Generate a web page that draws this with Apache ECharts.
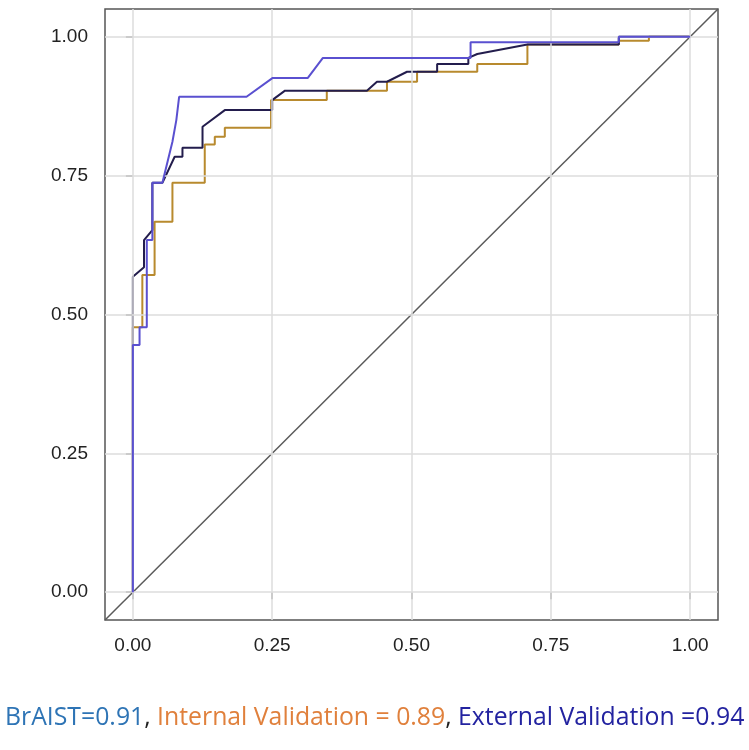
<!DOCTYPE html>
<html>
<head>
<meta charset="utf-8">
<script src="https://cdn.jsdelivr.net/npm/echarts@6/dist/echarts.min.js"></script>
<style>html,body{margin:0;padding:0;background:#fff;}#c{width:749px;height:750px;}</style>
</head>
<body>
<div id="c"></div>
<script>
// Tick labels
const tickValues = [0, 0.25, 0.5, 0.75, 1];
// BrAIST (navy)
const brFpr = [0, 0, 0.02, 0.02, 0.035, 0.035, 0.053, 0.075, 0.089, 0.089, 0.125, 0.125, 0.165, 0.25, 0.25, 0.273, 0.42, 0.438, 0.456, 0.492, 0.546, 0.546, 0.602, 0.602, 0.618, 0.708, 0.872, 0.872, 1];
const brTpr = [0, 0.568, 0.585, 0.634, 0.652, 0.737, 0.737, 0.784, 0.784, 0.80, 0.80, 0.838, 0.868, 0.868, 0.886, 0.903, 0.903, 0.919, 0.919, 0.937, 0.937, 0.951, 0.951, 0.962, 0.969, 0.986, 0.986, 1, 1];
// Internal validation (gold)
const inFpr = [0, 0, 0.017, 0.017, 0.039, 0.039, 0.071, 0.071, 0.129, 0.129, 0.147, 0.147, 0.165, 0.165, 0.248, 0.248, 0.348, 0.348, 0.456, 0.456, 0.51, 0.51, 0.618, 0.618, 0.708, 0.708, 0.872, 0.872, 0.926, 0.926, 1];
const inTpr = [0, 0.477, 0.477, 0.571, 0.571, 0.667, 0.667, 0.737, 0.737, 0.806, 0.806, 0.82, 0.82, 0.836, 0.836, 0.886, 0.886, 0.903, 0.903, 0.919, 0.919, 0.937, 0.937, 0.951, 0.951, 0.986, 0.986, 0.993, 0.993, 1, 1];
// External validation (blue)
const exFpr = [0, 0, 0.012, 0.012, 0.025, 0.025, 0.035, 0.035, 0.053, 0.071, 0.078, 0.083, 0.204, 0.251, 0.314, 0.341, 0.606, 0.606, 0.872, 0.872, 1];
const exTpr = [0, 0.445, 0.445, 0.477, 0.477, 0.634, 0.634, 0.737, 0.737, 0.811, 0.85, 0.892, 0.892, 0.926, 0.926, 0.962, 0.962, 0.99, 0.99, 1, 1];
// Reference diagonal
const diagX = [-0.05, 1.05];
const diagY = [-0.05, 1.05];

const zip = (a, b) => a.map((v, i) => [v, b[i]]);
const chart = echarts.init(document.getElementById('c'), null, {renderer: 'canvas'});

const axisCommon = {
  type: 'value', min: -0.05, max: 1.05,
  axisLine: {show: false},
  splitLine: {show: false},
  axisTick: {show: true, customValues: tickValues, length: 7, lineStyle: {color: '#999', width: 2}},
  axisLabel: {customValues: tickValues, color: '#222', fontSize: 19, fontFamily: 'Liberation Sans, Arial, sans-serif',
    formatter: v => v.toFixed(2)}
};
const capFont = '"Open Sans", Lato, sans-serif';
const capSize = 24.8;

chart.setOption({
  animation: false,
  grid: {left: 105, right: 31, top: 9, bottom: 130, show: true, borderColor: '#555', borderWidth: 1.5, backgroundColor: '#fff'},
  xAxis: Object.assign({}, axisCommon, {axisLabel: Object.assign({}, axisCommon.axisLabel, {margin: 16})}),
  yAxis: Object.assign({}, axisCommon, {axisLabel: Object.assign({}, axisCommon.axisLabel, {margin: 17})}),
  title: {
    left: 0, top: 700,
    text: '{a|BrAIST=0.91}{k|, }{b|Internal Validation = 0.89}{k|, }{c|External Validation =0.94}',
    textStyle: {
      fontWeight: 'normal',
      rich: {
        a: {color: '#2e74b5', fontSize: capSize, fontWeight: 'normal', fontFamily: capFont},
        k: {color: '#222', fontSize: capSize, fontWeight: 'normal', fontFamily: capFont},
        b: {color: '#e0803c', fontSize: capSize, fontWeight: 'normal', fontFamily: capFont},
        c: {color: '#2323a0', fontSize: capSize, fontWeight: 'normal', fontFamily: capFont}
      }
    }
  },
  series: [
    {
      type: 'line', z: 1, silent: true, data: [], symbol: 'none',
      markLine: {
        silent: true, symbol: 'none', label: {show: false},
        lineStyle: {color: '#dcdcdc', width: 1.5, type: 'solid'},
        data: tickValues.map(v => ({xAxis: v})).concat(tickValues.map(v => ({yAxis: v})))
      }
    },
    {type: 'line', z: 2, data: zip(diagX, diagY), symbol: 'none', lineStyle: {color: '#5a5a5a', width: 1.5}},
    {type: 'line', z: 3, name: 'Internal', data: zip(inFpr, inTpr), symbol: 'none', lineStyle: {color: '#b88a2e', width: 2}},
    {type: 'line', z: 4, name: 'BrAIST', data: zip(brFpr, brTpr), symbol: 'none', lineStyle: {color: '#231d4d', width: 2}},
    {type: 'line', z: 5, name: 'External', data: zip(exFpr, exTpr), symbol: 'none', lineStyle: {color: '#5a50d0', width: 2}}
  ]
});
</script>
</body>
</html>
